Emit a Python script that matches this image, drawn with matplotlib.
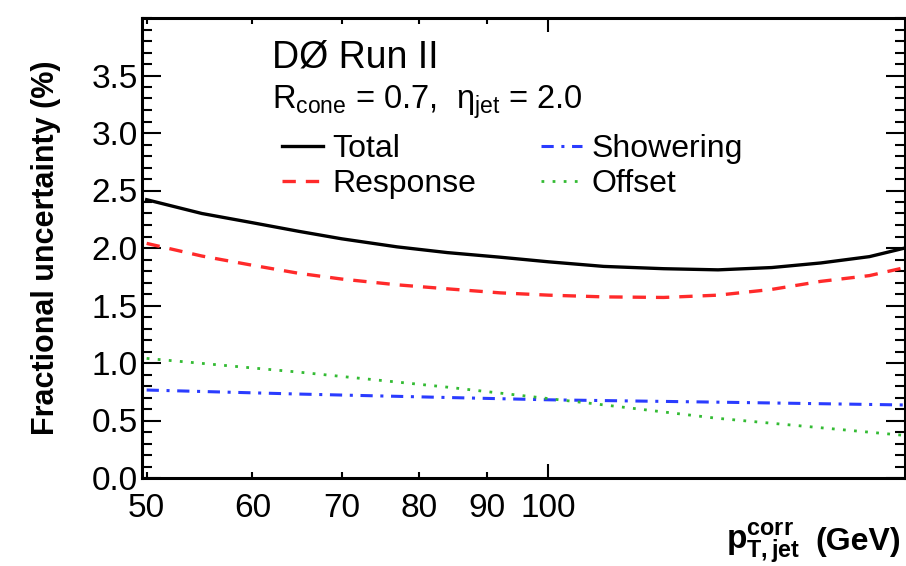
import matplotlib
matplotlib.use("Agg")
import matplotlib.pyplot as plt
from matplotlib.ticker import FixedLocator, FixedFormatter, MultipleLocator

plt.rcParams["font.family"] = ["Liberation Sans", "DejaVu Sans"]
plt.rcParams["mathtext.fontset"] = "custom"
plt.rcParams["mathtext.rm"] = "Liberation Sans"
plt.rcParams["mathtext.it"] = "Liberation Sans:italic"
plt.rcParams["mathtext.bf"] = "Liberation Sans:bold"

# ============ 数据============
pt_main = [50, 55, 60, 65, 70, 77, 84, 92, 100, 110, 122, 134, 147, 160, 174, 185]
total = [2.42, 2.30, 2.22, 2.145, 2.08, 2.01, 1.96, 1.92, 1.88, 1.84, 1.82, 1.81,
         1.83, 1.87, 1.925, 2.0]
response = [2.04, 1.93, 1.85, 1.78, 1.73, 1.68, 1.645, 1.61, 1.59, 1.575, 1.57, 1.59,
            1.64, 1.71, 1.76, 1.83]

pt_show = [50, 65, 84, 100, 133, 185]
showering = [0.765, 0.73, 0.70, 0.68, 0.66, 0.635]

pt_off = [50, 65.1, 84, 107.4, 133.6, 185]
offset = [1.04, 0.92, 0.79, 0.65, 0.52, 0.37]

x_minor = [50, 60, 70, 80, 90]
x_major = [100]
y_major = [0, 0.5, 1.0, 1.5, 2.0, 2.5, 3.0, 3.5]

# ============ 绘图 ============
fig = plt.figure(figsize=(9.06, 5.66), dpi=100)
ax = fig.add_axes([142/906, 88/566, 763/906, 460/566])

ax.plot(pt_main, total, color="black", lw=2.4, label="Total")
ax.plot(pt_main, response, color="#ff2a2a", lw=2.4, ls=(0, (4, 3)), label="Response")
ax.plot(pt_show, showering, color="#2a3cff", lw=2.2, ls=(0, (4, 2.5, 1, 2.5)), label="Showering")
ax.plot(pt_off, offset, color="#33bb33", lw=2.0, ls=(0, (1, 3)), label="Offset")

ax.set_xscale("log")
ax.set_xlim(49.6, 185)
ax.set_ylim(0, 4.0)

ax.xaxis.set_major_locator(FixedLocator(x_major))
ax.xaxis.set_major_formatter(FixedFormatter([str(v) for v in x_major]))
ax.xaxis.set_minor_locator(FixedLocator(x_minor))
ax.xaxis.set_minor_formatter(FixedFormatter([str(v) for v in x_minor]))

ax.yaxis.set_major_locator(FixedLocator(y_major))
ax.yaxis.set_major_formatter(FixedFormatter([f"{v:.1f}" for v in y_major]))
ax.yaxis.set_minor_locator(MultipleLocator(0.1))

ax.tick_params(axis="both", which="both", direction="in", top=True, right=True,
               labelsize=24, colors="black", width=1.5)
ax.tick_params(axis="x", which="major", length=10, pad=11)
ax.tick_params(axis="x", which="minor", length=4, pad=11)
ax.tick_params(axis="y", which="major", length=14, pad=3)
ax.tick_params(axis="y", which="minor", length=7)

for sp in ax.spines.values():
    sp.set_linewidth(2.2)

ax.set_ylabel("Fractional uncertainty (%)", fontsize=22, fontweight="bold", labelpad=22)

# x 轴标题（放在右下角）
fig.text(726/906, 16/566, r"$\mathbf{p}_{\mathbf{T,jet}}^{\mathbf{corr}}$",
         fontsize=24, va="baseline", ha="left")
fig.text(815/906, 16/566, "(GeV)", fontsize=23, fontweight="bold",
         va="baseline", ha="left")

ax.text(0.170, 0.893, "DØ Run II", transform=ax.transAxes, fontsize=27,
        va="baseline", ha="left")
ax.text(0.170, 0.804, r"R$_{\rm cone}$ = 0.7,  $\mathrm{\eta}_{\rm jet}$ = 2.0",
        transform=ax.transAxes, fontsize=23.5, va="baseline", ha="left")

ax.legend(loc="upper left", bbox_to_anchor=(0.183, 0.748), ncol=2, frameon=False,
          fontsize=23, handlelength=1.3, handletextpad=0.3, columnspacing=2.0,
          labelspacing=0.16, borderpad=0, borderaxespad=0)

plt.savefig("out.png", dpi=100, facecolor="white")
plt.close()
